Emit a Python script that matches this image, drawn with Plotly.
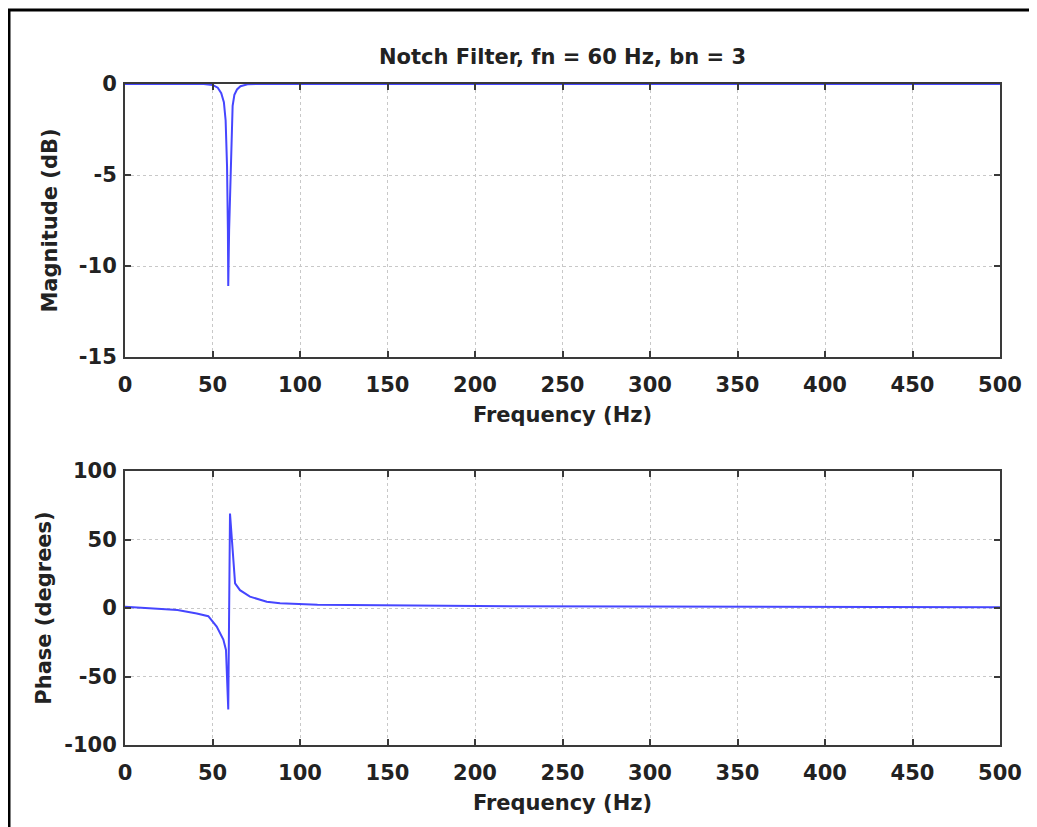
import plotly.graph_objects as go
from plotly.subplots import make_subplots

# values
mag_freq = [0, 45, 50, 53, 55, 56.5, 57.5, 58.3, 58.8, 59.0, 59.5, 60.2, 60.8, 61.5, 62.5, 64, 66, 70, 75, 500]
mag_db = [0, 0, -0.05, -0.2, -0.5, -1.0, -2.0, -4.5, -8.0, -11.1, -8.0, -5.0, -2.5, -1.2, -0.6, -0.3, -0.12, -0.02, 0, 0]

phase_freq = [0, 13, 30, 41, 47.6, 52.4, 56.2, 57.7, 58.1, 58.6, 59.0, 60.0, 62.9, 65.7, 71.4, 81, 88.6, 110, 220, 500]
phase_deg = [1, 0, -1.5, -4, -6, -13.6, -23, -30.6, -45, -60, -74, 69, 18, 13, 8.3, 4.6, 3.4, 2.4, 1.2, 0.5]

title_text = "Notch Filter, fn = 60 Hz, bn = 3"
x_ticks = list(range(0, 501, 50))
mag_ticks = [-15, -10, -5, 0]
phase_ticks = [-100, -50, 0, 50, 100]

LINE_BLUE = "rgb(70,70,255)"
AXIS_COL = "#3a3a3a"
GRID_COL = "#c8c8c8"
FONT = dict(family="DejaVu Sans", size=21, color="#222")

# page has an 8px body margin, so the figure is drawn 8px in from the corner
OFF = 8
W, H = 1037 - OFF, 827 - OFF
L, T = 125 - OFF, 84 - OFF
R = W - (1000 - OFF)
B = H - (745 - OFF)
plot_h = H - T - B
plot_w = W - L - R

fig = make_subplots(rows=2, cols=1)
fig.add_trace(go.Scatter(x=mag_freq, y=mag_db, mode="lines",
                         line=dict(color=LINE_BLUE, width=2), showlegend=False),
              row=1, col=1)
fig.add_trace(go.Scatter(x=phase_freq, y=phase_deg, mode="lines",
                         line=dict(color=LINE_BLUE, width=2), showlegend=False),
              row=2, col=1)

axis_style = dict(
    showline=True, linecolor=AXIS_COL, linewidth=2, mirror="ticks",
    ticks="inside", ticklen=6, tickcolor=AXIS_COL, tickwidth=2,
    showgrid=True, gridcolor=GRID_COL, griddash="dot", gridwidth=1,
    zeroline=False, tickfont=FONT,
)

top_lo = (745 - 357) / plot_h
bot_hi = (745 - 471) / plot_h

fig.update_xaxes(axis_style, range=[0, 500], tickvals=x_ticks,
                 ticktext=[f"<b>{v}</b>" for v in x_ticks],
                 title=dict(text="<b>Frequency (Hz)</b>", font=FONT, standoff=11),
                 ticklabelstandoff=8)
fig.update_yaxes(axis_style, ticklabelstandoff=2)
fig.update_yaxes(range=[-15, 0], tickvals=mag_ticks, domain=[top_lo, 1],
                 ticktext=[f"<b>{v}</b>" for v in mag_ticks],
                 title=dict(text="<b>Magnitude (dB)</b>", font=FONT, standoff=15),
                 row=1, col=1)
fig.update_yaxes(range=[-100, 100], tickvals=phase_ticks, domain=[0, bot_hi],
                 ticktext=[f"<b>{v}</b>" for v in phase_ticks],
                 title=dict(text="<b>Phase (degrees)</b>", font=FONT, standoff=7),
                 row=2, col=1)

# outer frame (only left and top edges fall inside the reference picture)
fig.add_shape(type="rect", xref="paper", yref="paper",
              x0=(9 - 125) / plot_w, x1=(1060 - 125) / plot_w,
              y0=(745 - 850) / plot_h, y1=(745 - 10) / plot_h,
              line=dict(color="black", width=3), fillcolor="rgba(0,0,0,0)", layer="above")

fig.update_layout(
    width=W, height=H,
    margin=dict(l=L, r=R, t=T, b=B),
    paper_bgcolor="white", plot_bgcolor="white",
    title=dict(text=f"<b>{title_text}</b>", font=FONT, x=(L + plot_w / 2) / W,
               xanchor="center", y=1 - (57 - OFF) / H, yanchor="middle"),
    font=FONT,
    showlegend=False,
)

fig.write_html("out.html")
